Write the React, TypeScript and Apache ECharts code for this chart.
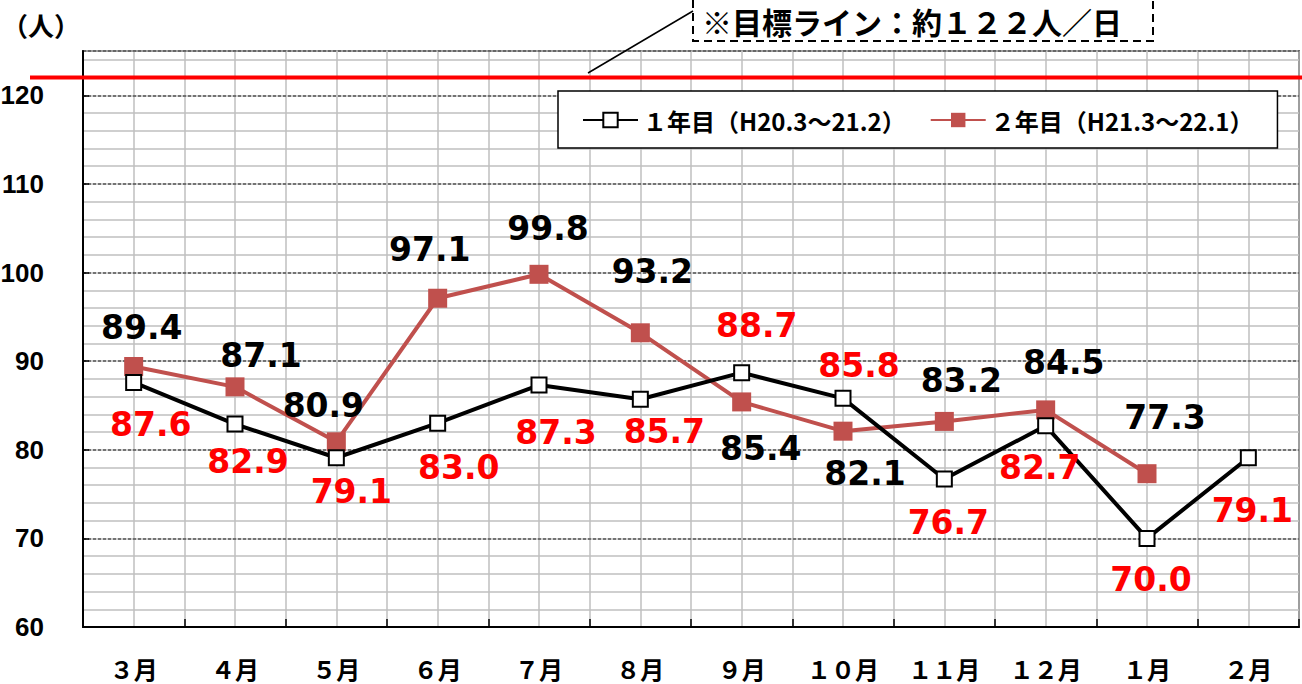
import React, { useEffect, useRef } from 'react';
import * as echarts from 'echarts';

const categories = ['３月', '４月', '５月', '６月', '７月', '８月', '９月', '１０月', '１１月', '１２月', '１月', '２月'];
const year1Values = [87.6, 82.9, 79.1, 83.0, 87.3, 85.7, 88.7, 85.8, 76.7, 82.7, 70.0, 79.1];
const year2Values = [89.4, 87.1, 80.9, 97.1, 99.8, 93.2, 85.4, 82.1, 83.2, 84.5, 77.3];
const yTickLabels = [60, 70, 80, 90, 100, 110, 120];
const targetValue = 122;
const seriesNames = ['１年目（H20.3～21.2）', '２年目（H21.3～22.1）'];
const unitLabel = '（人）';
const targetLabel = '※目標ライン：約１２２人／日';

// label placement offsets in pixels (layout only)
const year1LabelOffsets = [[17, 42], [13, 37], [15, 34], [21, 44], [17, 47], [24, 32], [15, -47], [16, -33], [4, 43], [-6, 42], [4, 41], [4, 53]];
const year2LabelOffsets = [[8, -39], [26, -31], [-13, -36], [-8, -49], [9, -46], [12, -61], [19, 47], [22, 42], [17, -41], [18, -47], [18, -56]];

const LABEL_FONT = "'DejaVu Sans', sans-serif";
const JP_FONT = "'Noto Sans CJK JP', sans-serif";

export default function App() {
  const ref = useRef<HTMLDivElement>(null);
  useEffect(() => {
    if (!ref.current) return;
    const chart = echarts.init(ref.current, undefined, { renderer: 'svg' });
    const gridLeft = 83, gridTop = 51, gridRight = 3, gridBottom = 57;
    chart.setOption({
      animation: false,
      backgroundColor: '#fff',
      grid: {
        left: gridLeft, top: gridTop, right: gridRight, bottom: gridBottom,
        outerBoundsMode: 'none', containLabel: false,
        show: true, borderColor: '#000', borderWidth: 1.5, backgroundColor: '#fff',
      },
      legend: {
        left: 558, top: 91,
        padding: [17, 24, 16, 24],
        itemGap: 24, itemWidth: 55, itemHeight: 18,
        backgroundColor: '#fff', borderColor: '#000', borderWidth: 1.5,
        textStyle: { fontFamily: JP_FONT, fontWeight: 'bold', fontSize: 24, color: '#000' },
        data: seriesNames,
      },
      xAxis: [
        {
          type: 'category', data: categories, boundaryGap: true,
          axisLine: { lineStyle: { color: '#000', width: 2 } },
          axisTick: { show: true, inside: true, length: 8, lineStyle: { color: '#000', width: 1.5 } },
          axisLabel: { interval: 0, margin: 29, color: '#000', fontFamily: JP_FONT, fontWeight: 'bold', fontSize: 24 },
          splitLine: { show: false },
          z: 3,
        },
        {
          type: 'value', min: 0, max: 24, interval: 1, position: 'bottom',
          axisLine: { show: false }, axisTick: { show: false }, axisLabel: { show: false },
          splitLine: { show: true, lineStyle: { color: '#bfbfbf', width: 1.5 } },
          z: 0,
        },
      ],
      yAxis: [
        {
          type: 'value', min: 60, max: 125, interval: 10,
          axisLine: { show: true, lineStyle: { color: '#000', width: 2 } },
          axisTick: { show: true, inside: true, length: 6, lineStyle: { color: '#000', width: 1.5 } },
          axisLabel: {
            margin: 39, color: '#000', fontFamily: "'Liberation Sans', Arial, sans-serif",
            fontWeight: 'bold', fontSize: 26, showMaxLabel: false,
            formatter: (v: number) => (yTickLabels.includes(v) ? String(v) : ''),
          },
          splitLine: { show: true, lineStyle: { color: '#555', width: 1.5, type: [3, 2] } },
          z: 2,
        },
        {
          type: 'value', min: 60, max: 125, interval: 2, position: 'left',
          axisLine: { show: false }, axisTick: { show: false }, axisLabel: { show: false },
          splitLine: { show: true, lineStyle: { color: '#bfbfbf', width: 1.5 } },
          z: 0,
        },
      ],
      series: [
        {
          name: seriesNames[0], type: 'line', xAxisIndex: 0, yAxisIndex: 0,
          data: year1Values.map((v, i) => ({ value: v, label: { offset: year1LabelOffsets[i] } })),
          symbol: 'rect', symbolSize: 15,
          lineStyle: { color: '#000', width: 4 },
          itemStyle: { color: '#fff', borderColor: '#000', borderWidth: 2 },
          label: {
            show: true, position: 'inside', color: '#ff0000',
            fontFamily: LABEL_FONT, fontWeight: 'bold', fontSize: 33,
            formatter: (p: any) => Number(p.value).toFixed(1),
          },
          z: 5,
        },
        {
          name: seriesNames[1], type: 'line', xAxisIndex: 0, yAxisIndex: 0,
          data: year2Values.map((v, i) => ({ value: v, label: { offset: year2LabelOffsets[i] } })),
          symbol: 'rect', symbolSize: 19,
          lineStyle: { color: '#c0504d', width: 4 },
          itemStyle: { color: '#c0504d', borderColor: '#c0504d', borderWidth: 0 },
          label: {
            show: true, position: 'inside', color: '#000',
            fontFamily: LABEL_FONT, fontWeight: 'bold', fontSize: 33,
            formatter: (p: any) => Number(p.value).toFixed(1),
          },
          z: 4,
        },
      ],
    });

    const targetY = chart.convertToPixel({ yAxisIndex: 0 }, targetValue) as number;
    chart.setOption({
      graphic: [
        {
          type: 'text', left: 2, top: 11,
          style: { text: unitLabel, fontFamily: JP_FONT, fontWeight: 'bold', fontSize: 26, fill: '#000' },
        },
        {
          type: 'line', z: 50,
          shape: { x1: 30, y1: targetY, x2: 1302, y2: targetY },
          style: { stroke: '#ff0000', lineWidth: 4 },
        },
        {
          type: 'line', z: 50,
          shape: { x1: 588, y1: 73, x2: 693, y2: 11 },
          style: { stroke: '#000', lineWidth: 1.5 },
        },
        {
          type: 'rect', z: 49,
          shape: { x: 693, y: 0, width: 460, height: 41 },
          style: { fill: '#fff' },
        },
        {
          type: 'polyline', z: 50,
          shape: { points: [[693, 0], [693, 41], [1153, 41], [1153, 0]] },
          style: { fill: 'none', stroke: '#000', lineWidth: 2, lineDash: [8, 5] },
        },
        {
          type: 'text', z: 51, x: 702, y: 21,
          style: {
            text: targetLabel, fontFamily: JP_FONT, fontWeight: 'bold', fontSize: 30,
            fill: '#000', verticalAlign: 'middle', align: 'left',
          },
        },
      ],
    });

    return () => chart.dispose();
  }, []);

  return (
    <div
      ref={ref}
      style={{ position: 'fixed', left: 0, top: 0, width: 1302, height: 684, background: '#fff' }}
    />
  );
}
